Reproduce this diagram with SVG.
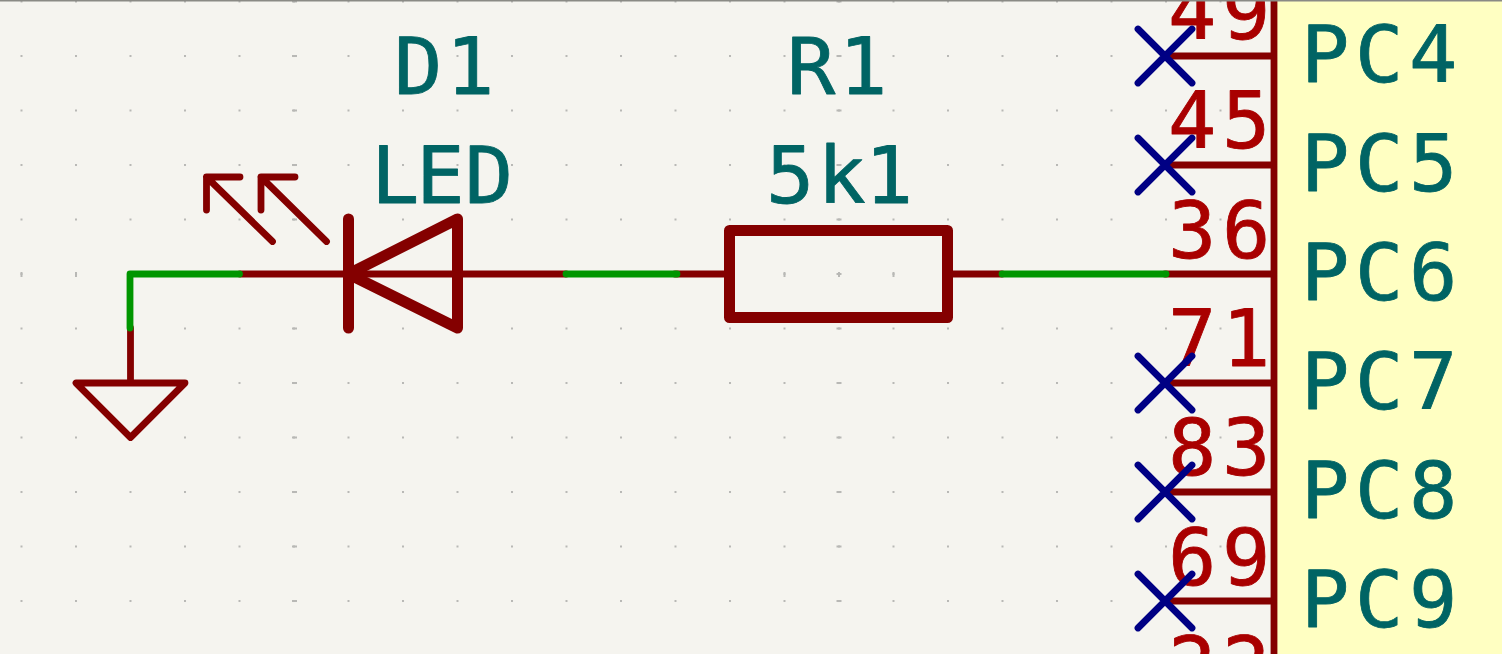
<svg xmlns="http://www.w3.org/2000/svg" width="1502" height="654" viewBox="0 0 1502 654">
<style>
.pin{fill:none;stroke:#840000;stroke-width:6.8;stroke-linecap:round;stroke-linejoin:round}
.thick{fill:none;stroke:#840000;stroke-width:11;stroke-linecap:round;stroke-linejoin:round}
.wire{fill:none;stroke:#009600;stroke-width:6.8;stroke-linecap:round;stroke-linejoin:round}
.nc{fill:none;stroke:#000084;stroke-width:6.8;stroke-linecap:round}
text{font-family:"DejaVu Sans Mono",monospace;font-size:78px;stroke-width:0.8;stroke-linejoin:round}
.lbl{fill:#006464;stroke:#006464}
.num{fill:#A90000;stroke:#A90000}
</style>
<defs>
<pattern id="g" width="54.5" height="54.5" patternUnits="userSpaceOnUse" patternTransform="translate(20.5 0.5)"><rect width="2" height="2" fill="#b8b8b5"/></pattern>
<pattern id="gx" width="544.5" height="54.5" patternUnits="userSpaceOnUse" patternTransform="translate(292 0.5)"><rect width="5" height="2" fill="#b8b8b5"/></pattern>
<pattern id="gy" width="54.5" height="545" patternUnits="userSpaceOnUse" patternTransform="translate(20.5 272)"><rect width="2" height="5" fill="#b8b8b5"/></pattern>
</defs>
<rect id="background" width="1502" height="654" fill="#F5F4EF"/>
<g id="grid">
<rect width="1274" height="654" fill="url(#g)"/>
<rect width="1274" height="654" fill="url(#gx)"/>
<rect width="1274" height="654" fill="url(#gy)"/>
</g>
<g id="U1">
<rect x="1274" y="-10" width="240" height="680" fill="#FFFFC2"/>
<path class="pin" d="M1274 -10V670M1165 56H1274M1165 165H1274M1165 274H1274M1165 383H1274M1165 492H1274M1165 601H1274"/>
<g class="num" transform="translate(1168 0) scale(1.03 1)">
<text x="0 52.400" y="39">49</text>
<text x="0 52.400" y="148">45</text>
<text x="0 52.400" y="258">36</text>
<text x="0 52.400" y="366">71</text>
<text x="0 52.400" y="475">83</text>
<text x="0 52.400" y="585">69</text>
<text x="0 52.400" y="693">22</text>
</g>
<g class="lbl" transform="translate(1301 0) scale(1.03 1)">
<text x="0 52.400 104.800" y="82">PC4</text>
<text x="0 52.400 104.800" y="191">PC5</text>
<text x="0 52.400 104.800" y="300">PC6</text>
<text x="0 52.400 104.800" y="409">PC7</text>
<text x="0 52.400 104.800" y="518">PC8</text>
<text x="0 52.400 104.800" y="627">PC9</text>
</g>
<path class="nc" d="M1138 29L1192 83M1192 29L1138 83M1138 138L1192 192M1192 138L1138 192M1138 356L1192 410M1192 356L1138 410M1138 465L1192 519M1192 465L1138 519M1138 574L1192 628M1192 574L1138 628"/>
</g>
<g id="D1">
<path class="pin" d="M240 274H566"/>
<path class="thick" d="M348.500 219V328M348.500 274L457.500 219V328Z"/>
<path class="pin" d="M272.500 241.500L206.500 177H240M206.500 177V210M326.500 241.500L261 177H295M261 177V210"/>
<text class="lbl" transform="translate(394 94) scale(1.03 1)" x="0 50.500">D1</text>
<text class="lbl" transform="translate(371 203) scale(1.03 1)" x="0 44 91">LED</text>
</g>
<g id="R1">
<path class="pin" d="M675 274H730M948 274H1002"/>
<rect class="thick" x="729.500" y="230.500" width="218" height="87"/>
<text class="lbl" transform="translate(787 94) scale(1.03 1)" x="0 50.500">R1</text>
<text class="lbl" transform="translate(766 203) scale(1.03 1)" x="0 50 96">5k1</text>
</g>
<g id="GND">
<path class="pin" d="M130.500 328V383M76 383H185L130.500 437.500Z"/>
</g>
<g id="connectors">
<path class="wire" d="M239.500 274H130V328"/>
<path class="wire" d="M566 274H677"/>
<path class="wire" d="M1002 274H1166"/>
</g>
<rect id="top-edge" y="0" width="1502" height="1.500" fill="#8a8a85"/>
</svg>
